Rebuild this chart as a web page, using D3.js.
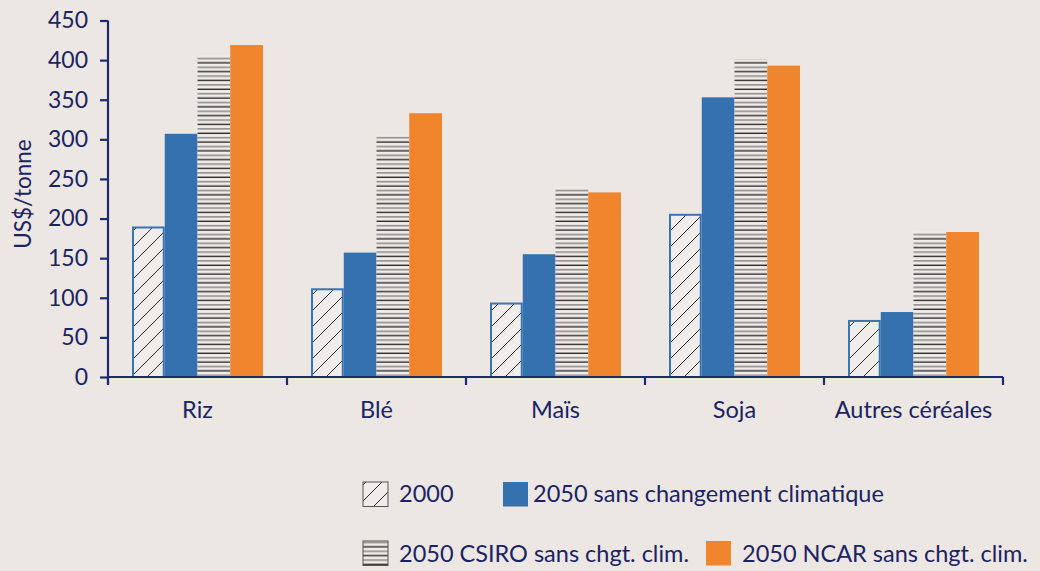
<!DOCTYPE html>
<html>
<head>
<meta charset="utf-8">
<script src="https://cdn.jsdelivr.net/npm/d3@7"></script>
<style>
  html, body { margin: 0; padding: 0; background: #ece7e3; }
  svg { display: block; }
  text { font-family: Lato, "Open Sans", sans-serif; fill: #1b2364; }
</style>
</head>
<body>
<svg id="chart" width="1040" height="571"></svg>
<script>
// ---- data ----
const categories = ["Riz", "Blé", "Maïs", "Soja", "Autres céréales"];
const seriesNames = ["2000", "2050 sans changement climatique", "2050 CSIRO sans chgt. clim.", "2050 NCAR sans chgt. clim."];
const values2000 = [190, 112, 94, 206, 72];
const valuesNoCC = [307, 157, 155, 353, 82];
const valuesCSIRO = [406, 306, 239, 401, 184];
const valuesNCAR = [419, 333, 233, 393, 183];
const yTicks = [0, 50, 100, 150, 200, 250, 300, 350, 400, 450];
const yTitle = "US$/tonne";

// ---- setup ----
const svg = d3.select("#chart");
const navy = "#1f2a6e";
const blue = "#3471ae";
const orange = "#f0852e";
const fontSize = "23.5px";

const defs = svg.append("defs");
const hatch = defs.append("pattern").attr("id", "hatch")
  .attr("patternUnits", "userSpaceOnUse").attr("width", 16).attr("height", 16);
hatch.append("rect").attr("width", 16).attr("height", 16).attr("fill", "#f0ece9");
hatch.append("path").attr("d", "M0,16 L16,0 M-4,4 L4,-4 M12,20 L20,12")
  .attr("stroke", "#2a2a2a").attr("stroke-width", 1);

const stripes = defs.append("pattern").attr("id", "stripes")
  .attr("patternUnits", "userSpaceOnUse").attr("width", 10).attr("height", 8.8);
stripes.append("rect").attr("width", 10).attr("height", 8.8).attr("fill", "#efebe8");
stripes.append("rect").attr("y", 0.6).attr("width", 10).attr("height", 1.3).attr("fill", "#1e1e1e");
stripes.append("rect").attr("y", 5.0).attr("width", 10).attr("height", 1.4).attr("fill", "#858280");

const seriesData = [values2000, valuesNoCC, valuesCSIRO, valuesNCAR];
const seriesFill = ["url(#hatch)", blue, "url(#stripes)", orange];

const x = d3.scaleBand().domain(categories).range([108, 1003]).padding(0);
const xSub = d3.scaleBand().domain(d3.range(seriesNames.length))
  .range([24, x.bandwidth() - 24]).padding(0);
const y = d3.scaleLinear().domain([0, 450]).range([377, 20.5]);

// ---- bars ----
const groups = svg.append("g").selectAll("g").data(categories).join("g")
  .attr("transform", d => `translate(${x(d)},0)`);

groups.selectAll("rect")
  .data((c, ci) => seriesData.map((s, si) => ({ si, v: s[ci] })))
  .join("rect")
  .attr("x", d => xSub(d.si) + (d.si === 0 ? 1 : 0))
  .attr("width", d => xSub.bandwidth() - (d.si === 0 ? 2 : 0))
  .attr("y", d => y(d.v) + (d.si === 0 ? 1 : 0))
  .attr("height", d => y(0) - y(d.v) - (d.si === 0 ? 1 : 0))
  .attr("fill", d => seriesFill[d.si])
  .attr("stroke", d => d.si === 0 ? "#3a74b2" : "none")
  .attr("stroke-width", d => d.si === 0 ? 2 : 0);

// ---- y axis ----
const yAxis = svg.append("g").attr("transform", "translate(108,0)")
  .call(d3.axisLeft(y).tickValues(yTicks).tickSize(8).tickPadding(12).tickSizeOuter(0));
yAxis.select(".domain").attr("stroke", navy).attr("stroke-width", 2.2)
  .attr("d", `M0,${y(450)}V${y(0) + 8}`);
yAxis.selectAll(".tick line").attr("stroke", navy).attr("stroke-width", 2.2);
yAxis.selectAll(".tick text").style("font-size", "23px").attr("fill", "#1b2364")
  .style("font-family", "Lato, sans-serif");

// ---- x axis (category boundaries) ----
const bounds = categories.map(c => x(c)).concat([x.range()[1]]);
const xAxis = svg.append("g");
xAxis.append("line").attr("x1", x.range()[0]).attr("x2", x.range()[1])
  .attr("y1", y(0)).attr("y2", y(0)).attr("stroke", navy).attr("stroke-width", 2.2);
xAxis.selectAll("line.tk").data(bounds).join("line").attr("class", "tk")
  .attr("x1", d => d).attr("x2", d => d).attr("y1", y(0)).attr("y2", y(0) + 8)
  .attr("stroke", navy).attr("stroke-width", 2.2);
xAxis.selectAll("text").data(categories).join("text")
  .attr("x", d => x(d) + x.bandwidth() / 2).attr("y", 418)
  .attr("text-anchor", "middle").style("font-size", fontSize).text(d => d);

// ---- y title ----
svg.append("text").attr("transform", "translate(31,194) rotate(-90)")
  .attr("text-anchor", "middle").style("font-size", "22.5px").text(yTitle);

// ---- legend ----
const legendPos = [
  { sx: 363, tx: 399, y: 482, by: 502 },
  { sx: 503, tx: 533, y: 482, by: 502 },
  { sx: 363, tx: 399, y: 541, by: 562 },
  { sx: 706, tx: 742, y: 541, by: 562 }
];
const leg = svg.append("g").selectAll("g").data(seriesNames).join("g");
leg.append("rect")
  .attr("x", (d, i) => legendPos[i].sx).attr("y", (d, i) => legendPos[i].y)
  .attr("width", 25).attr("height", 24.5)
  .attr("fill", (d, i) => seriesFill[i])
  .attr("stroke", (d, i) => (i === 0 || i === 2) ? "#555" : "none")
  .attr("stroke-width", 1);
leg.append("text")
  .attr("x", (d, i) => legendPos[i].tx).attr("y", (d, i) => legendPos[i].by)
  .style("font-size", fontSize).text(d => d);
</script>
</body>
</html>
